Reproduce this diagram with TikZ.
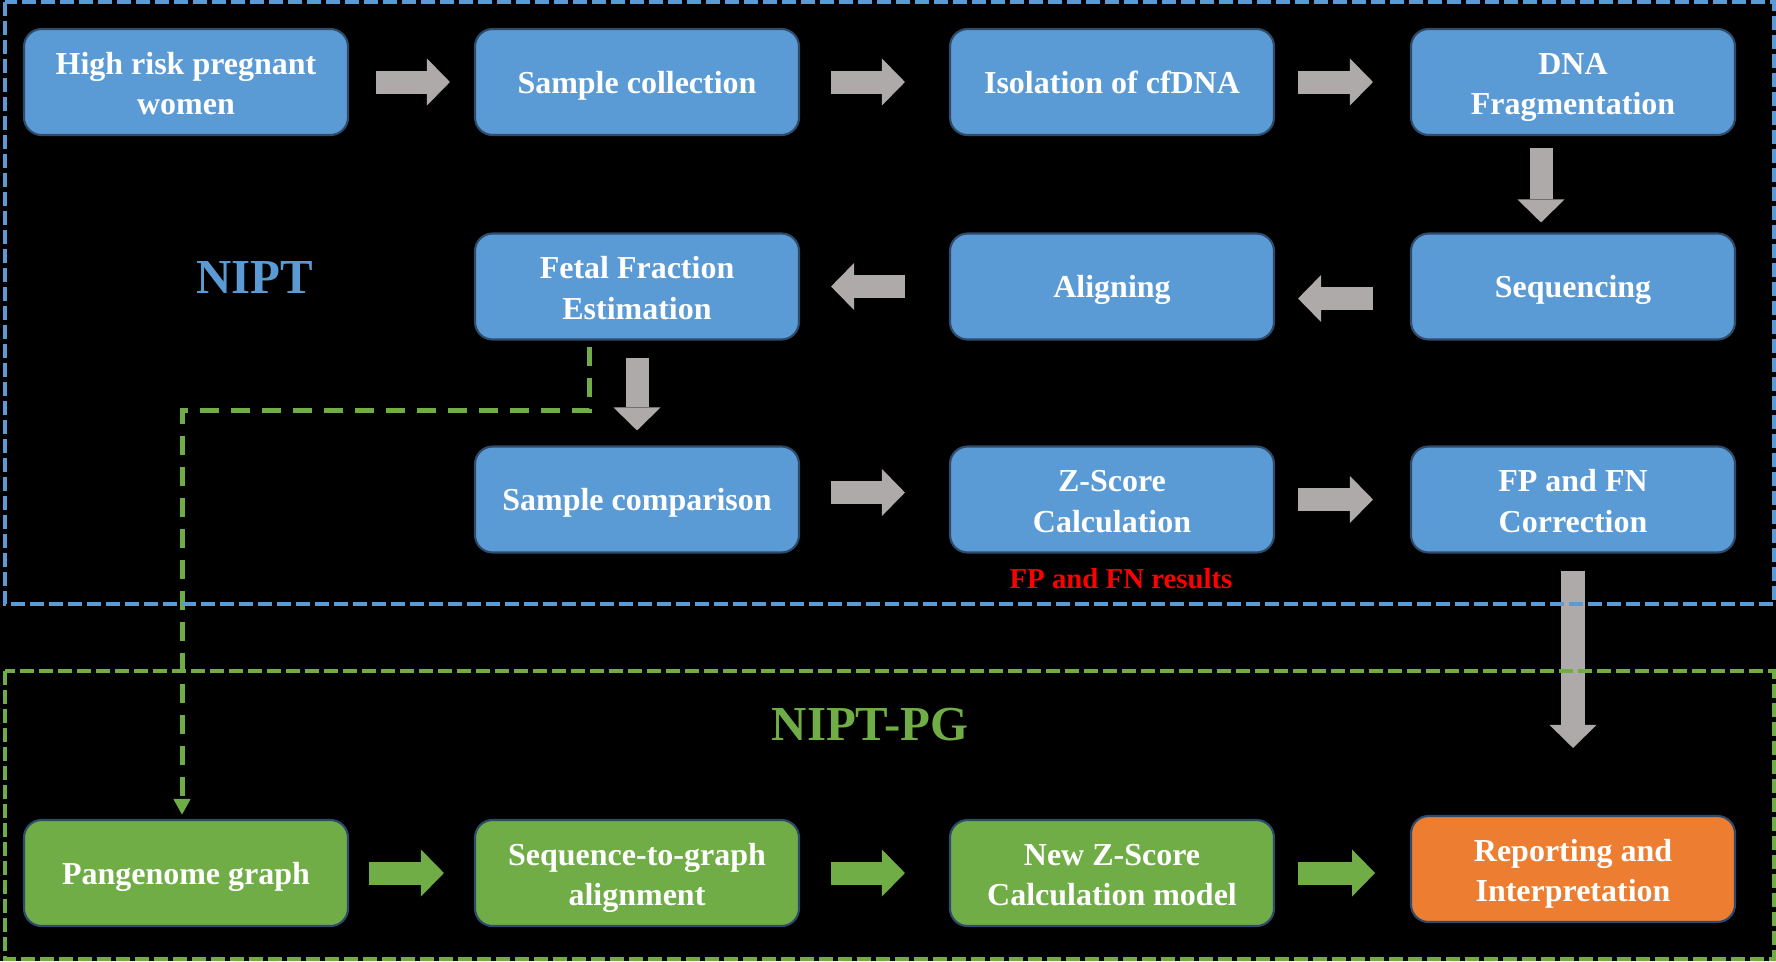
\documentclass[tikz,border=0pt]{standalone}
\usepackage{fontspec}
\setmainfont{Liberation Serif}
\usepackage{xcolor}
\usetikzlibrary{arrows.meta}
\definecolor{nblue}{HTML}{5B9BD5}
\definecolor{nedge}{HTML}{2F4B6B}
\definecolor{ngreen}{HTML}{70AD47}
\definecolor{norange}{HTML}{ED7D31}
\definecolor{ngray}{HTML}{AEAAAA}

\begin{document}
\begin{tikzpicture}[font=\bfseries,
  box/.style={draw=nedge,line width=0.6pt,fill=nblue,rounded corners=5pt,minimum width=3.24cm,minimum height=1.06cm,inner sep=0pt,align=center,text=white,font=\fontsize{9.1}{11.4}\selectfont\bfseries,
    execute at begin node={\rule{0pt}{0.30cm}},execute at end node={\rule[-0.08cm]{0pt}{0.08cm}}},
  tall/.style={execute at begin node={\rule{0pt}{0.73cm}}},
  gbox/.style={box,fill=ngreen},
  obox/.style={box,fill=norange},
  garr/.style={ngray,line width=0.23cm,-{Triangle[length=0.23cm,width=0.47cm,line width=0pt]}},
  grarr/.style={garr,ngreen},
  frame/.style={line width=0.04cm,dash pattern=on 0.14cm off 0.05cm}]
  \fill[black] (0,0) rectangle (17.76,-9.61);
  \useasboundingbox (0,0) rectangle (17.76,-9.61);
  % NIPT
  \node[box,tall] (hrp) at (1.86,-0.82) {High risk pregnant\\women};
  \node[box] (sc) at (6.37,-0.82) {Sample collection};
  \node[box] (iso) at (11.12,-0.82) {Isolation of cfDNA};
  \node[box,tall] (dna) at (15.73,-0.82) {DNA\\Fragmentation};
  \node[box] (seq) at (15.73,-2.865) {Sequencing};
  \node[box] (ali) at (11.12,-2.865) {Aligning};
  \node[box,tall] (ffe) at (6.37,-2.865) {Fetal Fraction\\Estimation};
  \node[box] (scmp) at (6.37,-4.995) {Sample comparison};
  \node[box,tall] (zs) at (11.12,-4.995) {Z-Score\\Calculation};
  \node[box,tall] (fpfn) at (15.73,-4.995) {FP and FN\\Correction};
  \node[text=nblue,font=\fontsize{13.9}{16}\selectfont\bfseries] (nipt) at (2.55,-2.77) {NIPT};
  \node[text=red,font=\fontsize{8.2}{10}\selectfont\bfseries] (fpres) at (11.21,-5.79) {FP and FN results};
  % NIPT-PG
  \node[gbox] (pg) at (1.86,-8.73) {Pangenome graph};
  \node[gbox,tall] (s2g) at (6.37,-8.73) {Sequence-to-graph\\alignment};
  \node[gbox,tall] (nzs) at (11.12,-8.73) {New Z-Score\\Calculation model};
  \node[obox,tall] (rep) at (15.73,-8.69) {Reporting and\\Interpretation};
  \node[text=ngreen,font=\fontsize{13.9}{16}\selectfont\bfseries] (niptpg) at (8.70,-7.25) {NIPT-PG};
  % flow
  \draw[garr] ([xshift=0.27cm]hrp.east) -- ([xshift=-0.24cm]sc.west);
  \draw[garr] ([xshift=0.31cm]sc.east) -- ([xshift=-0.44cm]iso.west);
  \draw[garr] ([xshift=0.23cm]iso.east) -- ([xshift=-0.37cm]dna.west);
  \draw[garr] ([xshift=-0.32cm,yshift=-0.12cm]dna.south) -- ([xshift=-0.32cm,yshift=0.10cm]seq.north);
  \draw[garr] ([xshift=-0.37cm,yshift=-0.12cm]seq.west) -- ([xshift=0.23cm,yshift=-0.12cm]ali.east);
  \draw[garr] ([xshift=-0.44cm]ali.west) -- ([xshift=0.31cm]ffe.east);
  \draw[garr] ([yshift=-0.17cm]ffe.south) -- ([yshift=0.15cm]scmp.north);
  \draw[garr] ([xshift=0.31cm,yshift=0.07cm]scmp.east) -- ([xshift=-0.44cm,yshift=0.07cm]zs.west);
  \draw[garr] ([xshift=0.23cm]zs.east) -- ([xshift=-0.37cm]fpfn.west);
  \draw[garr,line width=0.24cm] ([yshift=-0.17cm]fpfn.south) -- ([yshift=0.67cm]rep.north);
  \draw[grarr] ([xshift=0.20cm]pg.east) -- ([xshift=-0.30cm]s2g.west);
  \draw[grarr] ([xshift=0.31cm]s2g.east) -- ([xshift=-0.44cm]nzs.west);
  \draw[grarr] ([xshift=0.23cm]nzs.east) -- ++(0.77,0);
  \draw[ngreen,line width=0.05cm,dash pattern=on 0.19cm off 0.12cm,-{Triangle[length=0.16cm,width=0.16cm]}]
    ([xshift=-0.48cm,yshift=-0.06cm]ffe.south) -- ++(0,-0.64) -| ([xshift=-0.04cm,yshift=0.04cm]pg.north);
  % frames
  \draw[frame,nblue] (0.05,-0.015) rectangle (17.74,-6.04);
  \draw[frame,ngreen] (0.05,-6.71) rectangle (17.74,-9.59);
\end{tikzpicture}
\end{document}
